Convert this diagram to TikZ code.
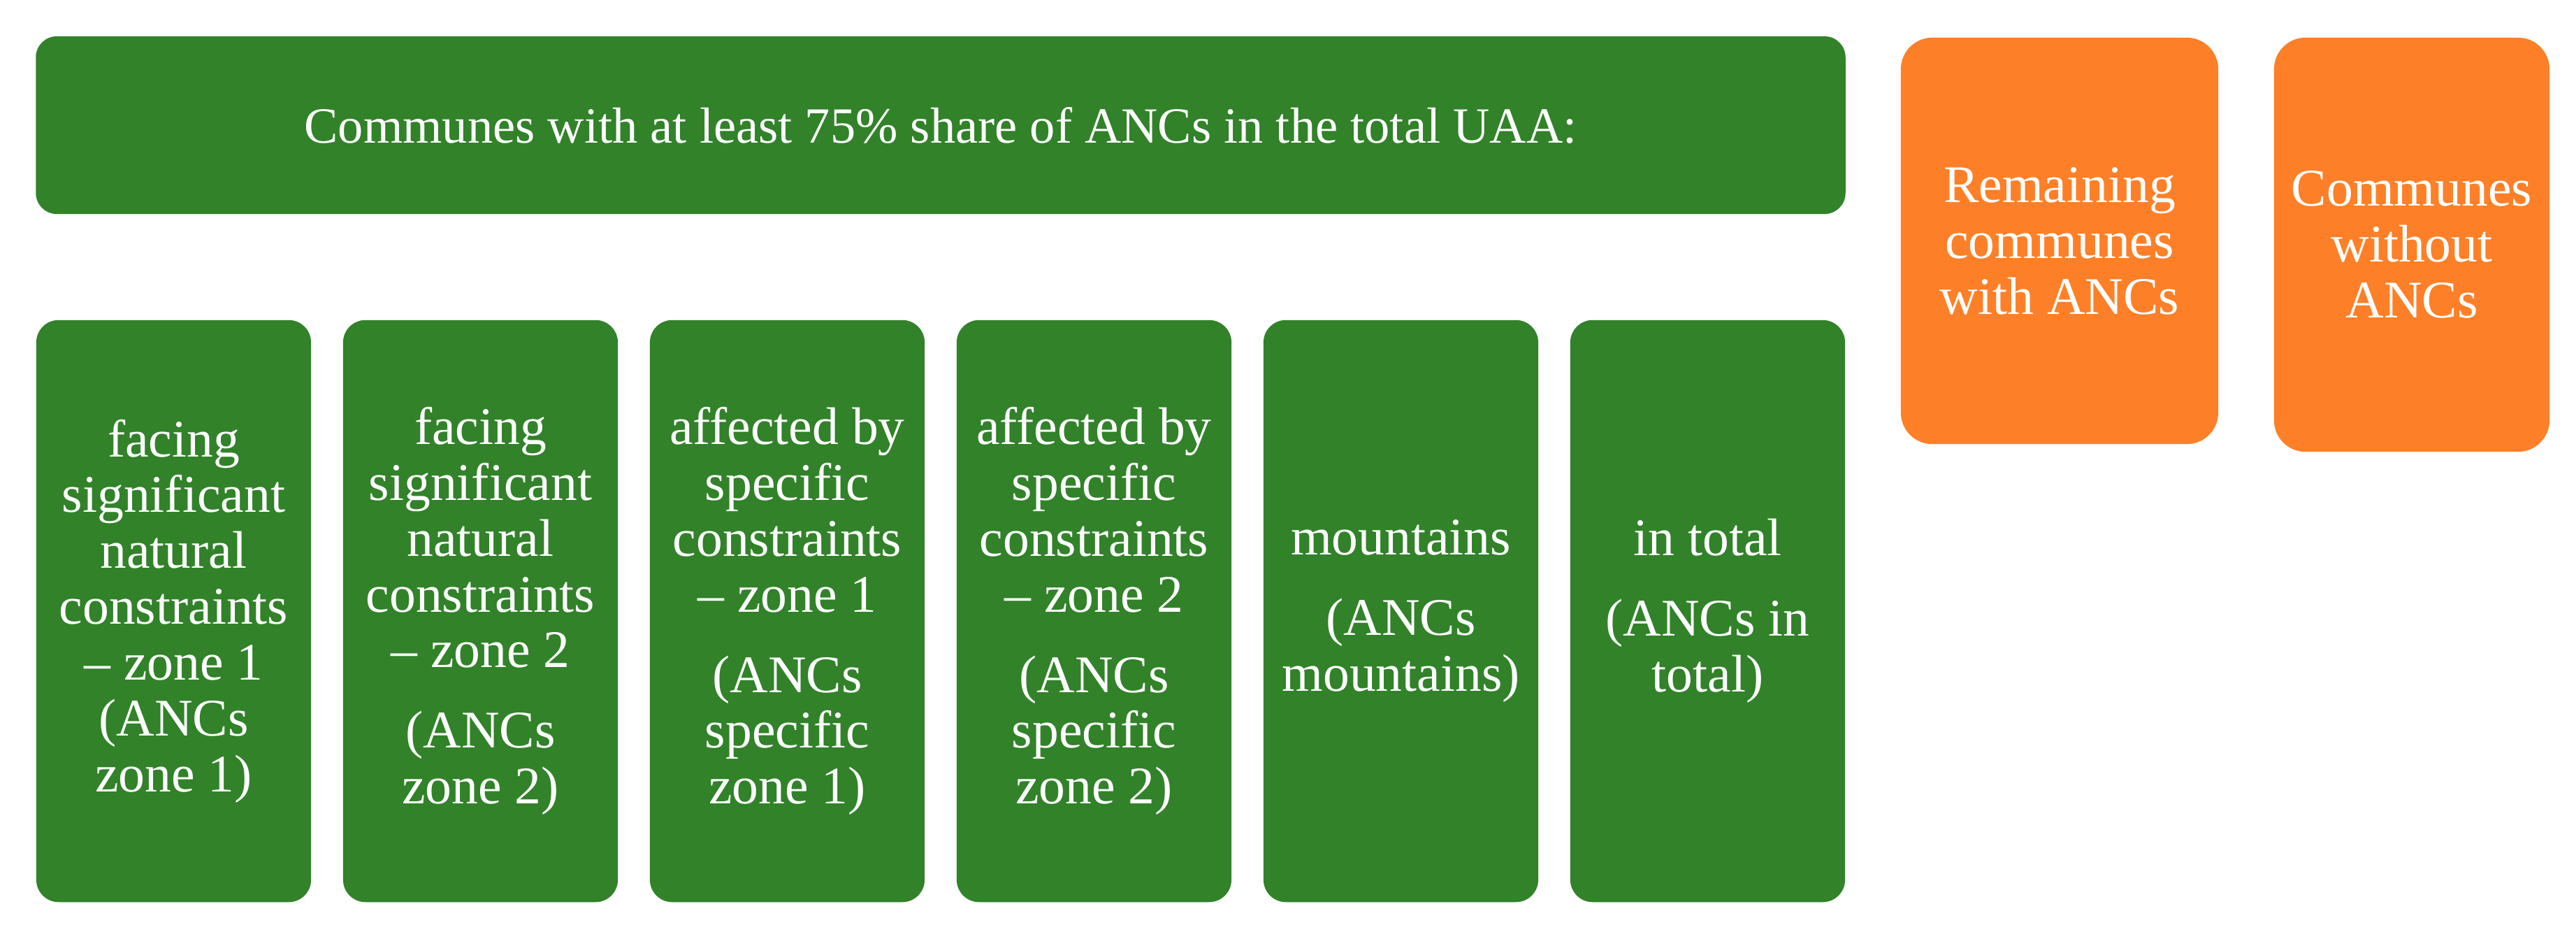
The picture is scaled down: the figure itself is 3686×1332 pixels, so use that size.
\documentclass[tikz,border=0pt]{standalone}
\usepackage{fontspec}
\setmainfont{Liberation Serif}
\definecolor{boxgreen}{RGB}{49,130,41}
\definecolor{boxorange}{RGB}{253,128,40}
\tikzset{
  basebox/.style={draw=none, text=white, align=center, inner sep=0pt,
    font=\fontsize{21.5pt}{22.7pt}\selectfont},
  gbox/.style={basebox, fill=boxgreen, rounded corners=0.32cm,
    minimum width=3.93cm, minimum height=8.32cm},
  banner/.style={basebox, fill=boxgreen, rounded corners=0.3cm,
    minimum width=25.88cm, minimum height=2.54cm,
    font=\fontsize{20.6pt}{22.7pt}\selectfont},
  obox/.style={basebox, fill=boxorange, rounded corners=0.45cm}
}
\begin{document}
\begin{tikzpicture}[x=0.01cm,y=-0.01cm]
\useasboundingbox (0,0) rectangle (3686,1332);
\node[banner] (top) at (1346,179) {Communes with at least 75\% share of ANCs in the total UAA:};
\node[obox, minimum width=4.54cm, minimum height=5.81cm] (rem) at (2947,344.5) {Remaining\\communes\\with ANCs};
\node[obox, minimum width=3.94cm, minimum height=5.92cm] (without) at (3451,350) {Communes\\without\\ANCs};
\node[gbox] (z1) at (248.5,874) {facing\\significant\\natural\\constraints\\– zone 1\\(ANCs\\zone 1)};
\node[gbox] (z2) at (687.5,874) {facing\\significant\\natural\\constraints\\– zone 2\\[10pt](ANCs\\zone 2)};
\node[gbox] (s1) at (1126.5,874) {affected by\\specific\\constraints\\– zone 1\\[10pt](ANCs\\specific\\zone 1)};
\node[gbox] (s2) at (1565.5,874) {affected by\\specific\\constraints\\– zone 2\\[10pt](ANCs\\specific\\zone 2)};
\node[gbox] (mt) at (2004.5,874) {mountains\\[10pt](ANCs\\mountains)};
\node[gbox] (tot) at (2443.5,874) {in total\\[10pt](ANCs in\\total)};
\end{tikzpicture}
\end{document}
